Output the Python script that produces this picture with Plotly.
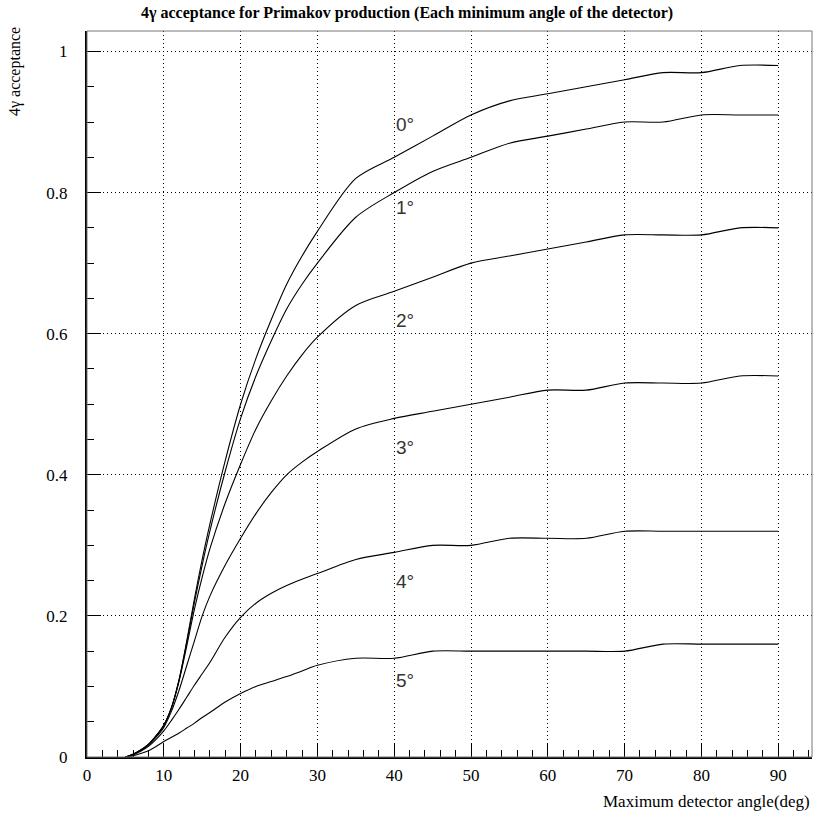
import plotly.graph_objects as go

# Maximum detector angle (deg)
angle = [5, 6, 7, 8, 9, 10, 11, 12, 13, 14, 15, 16, 18, 20, 22, 24, 26, 28, 30,
         35, 40, 45, 50, 55, 60, 65, 70, 75, 80, 85, 90]

# 4-gamma acceptance for each minimum detector angle
acc_0 = [0, 0.004, 0.01, 0.018, 0.03, 0.045, 0.07, 0.11, 0.165, 0.225, 0.28, 0.33,
         0.42, 0.50, 0.565, 0.62, 0.67, 0.71, 0.745,
         0.82, 0.85, 0.88, 0.91, 0.93, 0.94, 0.95, 0.96, 0.97, 0.97, 0.98, 0.98]
acc_1 = [0, 0.004, 0.01, 0.018, 0.03, 0.045, 0.07, 0.11, 0.163, 0.22, 0.272, 0.32,
         0.405, 0.48, 0.54, 0.59, 0.635, 0.67, 0.70,
         0.765, 0.80, 0.83, 0.85, 0.87, 0.88, 0.89, 0.90, 0.90, 0.91, 0.91, 0.91]
acc_2 = [0, 0.004, 0.01, 0.018, 0.03, 0.045, 0.07, 0.108, 0.158, 0.21, 0.255, 0.295,
         0.36, 0.415, 0.465, 0.505, 0.54, 0.57, 0.595,
         0.64, 0.66, 0.68, 0.70, 0.71, 0.72, 0.73, 0.74, 0.74, 0.74, 0.75, 0.75]
acc_3 = [0, 0.004, 0.009, 0.017, 0.028, 0.042, 0.065, 0.095, 0.13, 0.165, 0.2, 0.228,
         0.272, 0.31, 0.345, 0.375, 0.40, 0.418, 0.433,
         0.465, 0.48, 0.49, 0.50, 0.51, 0.52, 0.52, 0.53, 0.53, 0.53, 0.54, 0.54]
acc_4 = [0, 0.003, 0.008, 0.015, 0.025, 0.037, 0.052, 0.068, 0.085, 0.102, 0.118, 0.134,
         0.17, 0.198, 0.218, 0.232, 0.243, 0.252, 0.26,
         0.28, 0.29, 0.30, 0.30, 0.31, 0.31, 0.31, 0.32, 0.32, 0.32, 0.32, 0.32]
acc_5 = [0, 0.002, 0.005, 0.009, 0.015, 0.022, 0.028, 0.034, 0.041, 0.048, 0.056, 0.063,
         0.078, 0.09, 0.1, 0.107, 0.114, 0.122, 0.13,
         0.14, 0.14, 0.15, 0.15, 0.15, 0.15, 0.15, 0.15, 0.16, 0.16, 0.16, 0.16]

series = [acc_0, acc_1, acc_2, acc_3, acc_4, acc_5]
curve_labels = ["0°", "1°", "2°", "3°", "4°", "5°"]
label_y = [0.899, 0.782, 0.621, 0.441, 0.251, 0.111]
label_x = 40

serif = "Liberation Serif"
title_text = "<b>4γ acceptance for Primakov production (Each minimum angle of the detector)</b>"

fig = go.Figure()
for ys in series:
    fig.add_trace(go.Scatter(
        x=angle, y=ys, mode="lines",
        line=dict(color="black", width=1.1, shape="spline", smoothing=0.85),
        showlegend=False, hoverinfo="skip",
    ))

for txt, yv in zip(curve_labels, label_y):
    fig.add_annotation(
        x=label_x, y=yv, xref="x", yref="y", text=txt, showarrow=False,
        xanchor="left", yanchor="middle", yshift=-2,
        font=dict(family="Liberation Sans", size=19, color="#333333"),
    )

# Title
fig.add_annotation(
    x=(407 - 87) / 725, y=(757 - 13) / 726, xref="paper", yref="paper",
    text=title_text, showarrow=False, xanchor="center", yanchor="middle",
    font=dict(family=serif, size=16, color="black"),
)

# Axis titles
fig.add_annotation(
    x=1.0, y=(757 - 802) / 726, xref="paper", yref="paper",
    text="Maximum detector angle(deg)", showarrow=False,
    xanchor="right", yanchor="middle",
    font=dict(family=serif, size=17, color="black"),
)
fig.add_annotation(
    x=(15 - 87) / 725, y=(757 - 72) / 726, xref="paper", yref="paper",
    text="4γ acceptance", showarrow=False, textangle=-90,
    xanchor="center", yanchor="middle",
    font=dict(family=serif, size=16, color="black"),
)

# Thin frame around the plotting area
fig.add_shape(type="rect", xref="paper", yref="paper", x0=0, y0=0, x1=1, y1=1,
              line=dict(color="#777777", width=1), layer="above")

grid_dash = "1px,3px"
fig.update_xaxes(
    range=[0, 94.4], tickmode="array", tickvals=list(range(0, 100, 10)),
    ticktext=[str(v) for v in range(0, 100, 10)],
    ticks="inside", ticklen=14, tickwidth=1, tickcolor="black",
    minor=dict(dtick=2, tick0=0, ticks="inside", ticklen=7, tickwidth=1,
               tickcolor="black", showgrid=False),
    showgrid=True, gridcolor="black", gridwidth=1, griddash=grid_dash,
    zeroline=False, showline=True, linecolor="black", linewidth=2,
    tickfont=dict(family=serif, size=17, color="black"), ticklabelstandoff=2,
)
fig.update_yaxes(
    range=[0, 1.029], tickmode="array", tickvals=[0, 0.2, 0.4, 0.6, 0.8, 1.0],
    ticktext=["0", "0.2", "0.4", "0.6", "0.8", "1"],
    ticks="inside", ticklen=14, tickwidth=1, tickcolor="black",
    minor=dict(dtick=0.05, tick0=0, ticks="inside", ticklen=7, tickwidth=1,
               tickcolor="black", showgrid=False),
    showgrid=True, gridcolor="black", gridwidth=1, griddash=grid_dash,
    zeroline=False, showline=True, linecolor="black", linewidth=2,
    tickfont=dict(family=serif, size=17, color="black"), ticklabelstandoff=14,
)

fig.update_layout(
    width=814, height=814,
    margin=dict(l=87, r=2, t=31, b=57),
    paper_bgcolor="white", plot_bgcolor="white",
    showlegend=False,
)

fig.write_html("out.html")
